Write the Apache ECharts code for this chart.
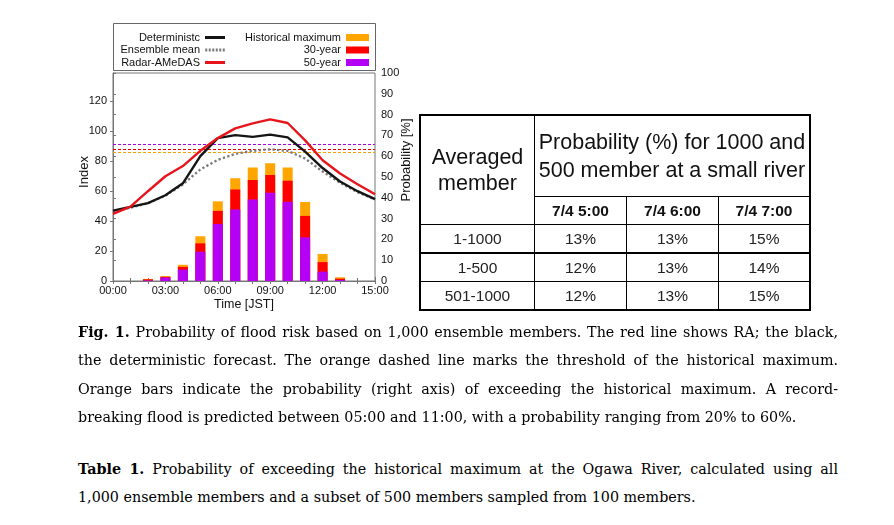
<!DOCTYPE html>
<html><head><meta charset="utf-8">
<script src="https://cdn.jsdelivr.net/npm/echarts@6/dist/echarts.min.js"></script>
<style>
html,body{margin:0;padding:0;background:#fff;width:894px;height:525px;overflow:hidden;}
#chart{position:absolute;left:0;top:0;width:430px;height:320px;}
table.t{position:absolute;left:419px;top:114px;border-collapse:collapse;font-family:'Liberation Sans',Arial,sans-serif;color:#111;border:2.5px solid #000;}
table.t td{border:1.5px solid #000;padding:0;text-align:center;vertical-align:middle;}
table.t td.big{font-size:21.5px;}
table.t td.hd{font-size:15.5px;font-weight:bold;height:27px;}
table.t td.v{font-size:15.5px;height:27px;color:#222;}
table.t tr.thick td{border-bottom:2.5px solid #000;}
.cap{position:absolute;left:78px;width:760px;font-family:'DejaVu Serif',serif;font-size:14.3px;line-height:28.4px;color:#000;}
.cap div{text-align:justify;text-align-last:justify;white-space:nowrap;}
.cap div.last{text-align:left;text-align-last:left;}
</style>
</head><body>
<div id="chart"></div>
<div id="tbl"></div>
<div class="cap" id="cap1" style="top:318px"></div>
<div class="cap" id="cap2" style="top:455px"></div>
<script>
// ---- chart data ----
const hours = [0,1,2,3,4,5,6,7,8,9,10,11,12,13,14,15];
const deterministic = [47,49.5,52,57.3,65.3,83.5,95.5,97.5,96.3,97.8,96,86.5,75.5,66.5,60,54.7];
const ensembleMean = [46,49,52,57,64.5,74.5,81,85,87,88,87,81.8,73.2,65.7,59.3,54.5];
const radarAMeDAS = [44.8,49.7,60,70,76.8,87,95.5,102,105.3,108,105.6,94,80.7,71.8,64.7,58];
const barHours = [2,3,4,5,6,7,8,9,10,11,12,13];
const probHistMax = [1.0,2.4,7.8,21.5,38.3,49.4,54.6,56.6,54.6,38.0,13.0,1.8];
const prob30yr   = [0.8,2.0,6.8,18.1,33.7,44.0,48.5,51.0,48.2,31.3,9.1,1.1];
const prob50yr   = [0.3,1.7,5.5,14.1,27.4,34.4,39.2,42.4,38.1,21.0,4.5,0.5];
const thresholds = [86.3, 88, 91.5]; // historical max, 30-year, 50-year (Index)
const xTickHours = [0,3,6,9,12,15];
// ---- table data ----
const tblCorner = ['Averaged','member'];
const tblTitle = ['Probability (%) for 1000 and','500 member at a small river'];
const tblCols = ['7/4 5:00','7/4 6:00','7/4 7:00'];
const tblRows = ['1-1000','1-500','501-1000'];
const tblVals = [[13,13,15],[12,13,14],[12,13,15]];
// ---- captions ----
const figLabel = 'Fig. 1.';
const figLines = [' Probability of flood risk based on 1,000 ensemble members. The red line shows RA; the black,',
 'the deterministic forecast. The orange dashed line marks the threshold of the historical maximum.',
 'Orange bars indicate the probability (right axis) of exceeding the historical maximum. A record-',
 'breaking flood is predicted between 05:00 and 11:00, with a probability ranging from 20% to 60%.'];
const tabLabel = 'Table 1.';
const tabLines = [' Probability of exceeding the historical maximum at the Ogawa River, calculated using all',
 '1,000 ensemble members and a subset of 500 members sampled from 100 members.'];

// build table
(function(){
  let h = '<table class="t">';
  h += '<tr><td class="big" rowspan="2" style="width:113px;height:80px;line-height:26px;">'+tblCorner.join('<br>')+'</td>';
  h += '<td class="big" colspan="3" style="height:80px;line-height:28px;">'+tblTitle.join('<br>')+'</td></tr>';
  h += '<tr>'+tblCols.map((c,i)=>'<td class="hd" style="width:'+(i<2?91:90)+'px">'+c+'</td>').join('')+'</tr>';
  tblRows.forEach((r,i)=>{
    h += '<tr'+(i===0?' class="thick"':'')+'><td class="v">'+r+'</td>'+tblVals[i].map(v=>'<td class="v">'+v+'%</td>').join('')+'</tr>';
  });
  h += '</table>';
  document.getElementById('tbl').innerHTML = h;
  const mk = (label, lines) => lines.map((l,i)=>'<div'+(i===lines.length-1?' class="last"':'')+'>'+(i===0?'<b>'+label+'</b>':'')+l+'</div>').join('');
  document.getElementById('cap1').innerHTML = mk(figLabel, figLines);
  document.getElementById('cap2').innerHTML = mk(tabLabel, tabLines);
})();

const FONT = "'Liberation Sans', Arial, sans-serif";
const pad = v => (v<10?'0':'')+v+':00';
const chart = echarts.init(document.getElementById('chart'), null, {renderer:'canvas'});
const pairs = arr => hours.map((h,i)=>[h, arr[i]]);
const bpairs = arr => barHours.map((h,i)=>[h, arr[i]]);
const lineBase = {type:'line', symbol:'none', showSymbol:false, smooth:false, z:5, xAxisIndex:0, yAxisIndex:0, silent:true, animation:false};
const barBase = {type:'bar', xAxisIndex:0, yAxisIndex:1, barWidth:10, barGap:'-100%', silent:true, animation:false, z:2};
const thrColors = ['#f5a000','#e00000','#a800e8'];
const solidIcon = 'path://M0,0H20V3H0Z';
const dotIcon = 'path://M0,0H2V3H0Z M3.5,0H5.5V3H3.5Z M7,0H9V3H7Z M10.5,0H12.5V3H10.5Z M14,0H16V3H14Z M17.5,0H19.5V3H17.5Z';
chart.setOption({
  animation:false,
  textStyle:{fontFamily:FONT},
  graphic:[{type:'rect', z:0, shape:{x:113.5,y:23.5,width:262,height:47}, style:{fill:'#fff', stroke:'#666', lineWidth:1}}],
  legend:[{
    data:[{name:'Deterministc', icon:solidIcon},{name:'Ensemble mean', icon:dotIcon},{name:'Radar-AMeDAS', icon:solidIcon}],
    orient:'vertical', left:100, top:27, align:'right',
    itemWidth:20, itemHeight:3, itemGap:1.5, selectedMode:false,
    formatter:'{a|{name}}',
    textStyle:{rich:{a:{width:95, align:'right', fontSize:11, lineHeight:11, color:'#111', fontFamily:FONT}}}
  },{
    data:['Historical maximum','30-year','50-year'], orient:'vertical', left:236, top:27, align:'right',
    itemWidth:23, itemHeight:7, itemGap:1.5, selectedMode:false, icon:'rect',
    formatter:'{a|{name}}',
    textStyle:{rich:{a:{width:100, align:'right', fontSize:11, lineHeight:11, color:'#111', fontFamily:FONT}}}
  }],
  grid:{left:113, top:73, width:262, height:208, show:true, borderColor:'#777', borderWidth:1, backgroundColor:'transparent', containLabel:false},
  xAxis:[{
    type:'value', min:0, max:15, interval:3, position:'bottom',
    axisLine:{show:true, lineStyle:{color:'#777'}},
    axisTick:{show:true, inside:true, length:4, lineStyle:{color:'#777'}},
    minorTick:{show:true, splitNumber:3, length:3, lineStyle:{color:'#777'}},
    splitLine:{show:false},
    axisLabel:{formatter:v=>xTickHours.includes(v)?pad(v):'', fontSize:11, color:'#111', margin:4, fontFamily:FONT},
    name:'Time [JST]', nameLocation:'middle', nameGap:17, nameMoveOverlap:false, nameTextStyle:{fontSize:12.5, color:'#111', fontFamily:FONT}
  },{
    type:'value', min:0, max:15, interval:1, position:'top',
    axisLine:{show:true, lineStyle:{color:'#777'}},
    axisTick:{show:true, inside:true, length:3, lineStyle:{color:'#777'}},
    axisLabel:{show:false}, splitLine:{show:false}
  }],
  yAxis:[{
    type:'value', min:0, max:139, interval:20, position:'left',
    axisLine:{show:true, lineStyle:{color:'#777'}},
    axisTick:{show:true, length:3, lineStyle:{color:'#777'}},
    splitLine:{show:false},
    axisLabel:{fontSize:11, color:'#111', margin:6, showMaxLabel:false, fontFamily:FONT},
    name:'Index', nameLocation:'middle', nameRotate:90, nameGap:22, nameMoveOverlap:false, nameTextStyle:{fontSize:13, color:'#111', fontFamily:FONT, padding:[0,0,0,10]}
  },{
    type:'value', min:0, max:100, interval:10, position:'right',
    axisLine:{show:true, lineStyle:{color:'#777'}},
    axisTick:{show:true, length:3, lineStyle:{color:'#777'}},
    splitLine:{show:false},
    axisLabel:{fontSize:11, color:'#111', margin:6, fontFamily:FONT},
    name:'Probability [%]', nameLocation:'middle', nameRotate:90, nameGap:25, nameMoveOverlap:false, nameTextStyle:{fontSize:13, color:'#111', fontFamily:FONT, padding:[0,0,0,34]}
  }],
  series:[
    Object.assign({}, barBase, {name:'Historical maximum', data:bpairs(probHistMax), itemStyle:{color:'#ffa500'}}),
    Object.assign({}, barBase, {name:'30-year', data:bpairs(prob30yr), itemStyle:{color:'#ff0000'}}),
    Object.assign({}, barBase, {name:'50-year', data:bpairs(prob50yr), itemStyle:{color:'#b400f5'}}),
    Object.assign({}, lineBase, {name:'Ensemble mean', data:pairs(ensembleMean), lineStyle:{color:'#7a7a7a', width:2.3, type:'dotted'}, itemStyle:{color:'#7a7a7a'},
      markLine:{silent:true, symbol:'none', label:{show:false}, animation:false,
        data:thresholds.map((t,i)=>({yAxis:t, lineStyle:{color:thrColors[i], type:[3,2], width:1}}))}}),
    Object.assign({}, lineBase, {name:'Deterministc', data:pairs(deterministic), lineStyle:{color:'#151515', width:2.4}, itemStyle:{color:'#151515'}}),
    Object.assign({}, lineBase, {name:'Radar-AMeDAS', data:pairs(radarAMeDAS), lineStyle:{color:'#e8141c', width:2.4}, itemStyle:{color:'#e8141c'}})
  ]
});
</script>
</body></html>
